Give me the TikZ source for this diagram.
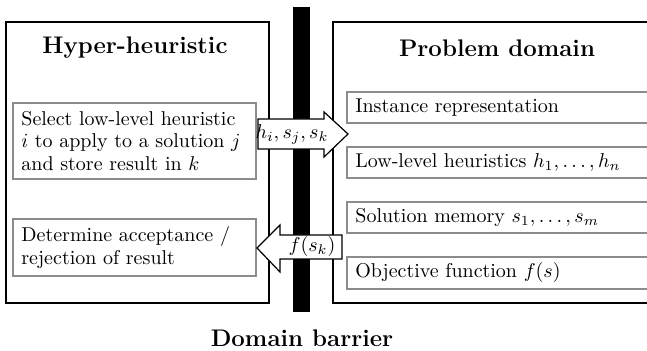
\documentclass[tikz,border=0pt]{standalone}
\usetikzlibrary{positioning}
\begin{document}
\begin{tikzpicture}[x=0.5pt,y=-0.5pt,
  outer/.style={draw=black,line width=0.6pt},
  inner/.style={draw=black!45,line width=0.6pt},
  txt/.style={anchor=west,align=left,inner sep=0pt,font=\fontsize{10}{11.2}\selectfont},
  ttl/.style={font=\fontsize{12}{14}\selectfont\bfseries},
  arr/.style={draw=black,fill=white,line width=0.6pt,line join=miter}]
\useasboundingbox (0,0) rectangle (647,351);
\clip (0,0) rectangle (647,351);
% outer boxes
\draw[outer] (6,22) rectangle (269,303);
\draw[outer] (333,22) rectangle (660,303);
% barrier
\fill[black] (293,7) rectangle (310,312);
% titles
\node[ttl] (hh) at (135,48) {Hyper-heuristic};
\node[ttl] (pd) at (497,48) {Problem domain};
\node[ttl] (db) at (302,338) {Domain barrier};
% left inner boxes
\draw[inner] (13,103) rectangle (256,179);
\node[txt] (sel) at (21,141) {Select low-level heuristic\\$i$ to apply to a solution $j$\\and store result in $k$};
\draw[inner] (13,219) rectangle (256,276);
\node[txt] (det) at (21,247.5) {Determine acceptance /\\rejection of result};
% right inner boxes
\draw[inner] (347,92) rectangle (652,123);
\node[txt] (ins) at (355,107.5) {Instance representation};
\draw[inner] (347,147) rectangle (652,178);
\node[txt] (llh) at (355,162.5) {Low-level heuristics $h_1,\ldots,h_n$};
\draw[inner] (347,202) rectangle (652,233);
\node[txt] (sol) at (355,217.5) {Solution memory $s_1,\ldots,s_m$};
\draw[inner] (347,257) rectangle (652,289);
\node[txt] (obj) at (355,273) {Objective function $f(s)$};
% arrows
\draw[arr] (258,119) -- (324,119) -- (324,112) -- (348,134) -- (324,157) -- (324,149) -- (258,149) -- cycle;
\node[font=\fontsize{10}{12}\selectfont,inner sep=0pt] (a1) at (292,134) {$h_i,s_j,s_k$};
\draw[arr] (342,235) -- (280,235) -- (280,225) -- (257,248) -- (280,272) -- (280,259) -- (342,259) -- cycle;
\node[font=\fontsize{10}{12}\selectfont,inner sep=0pt] (a2) at (312,247) {$f(s_k)$};
\end{tikzpicture}
\end{document}
